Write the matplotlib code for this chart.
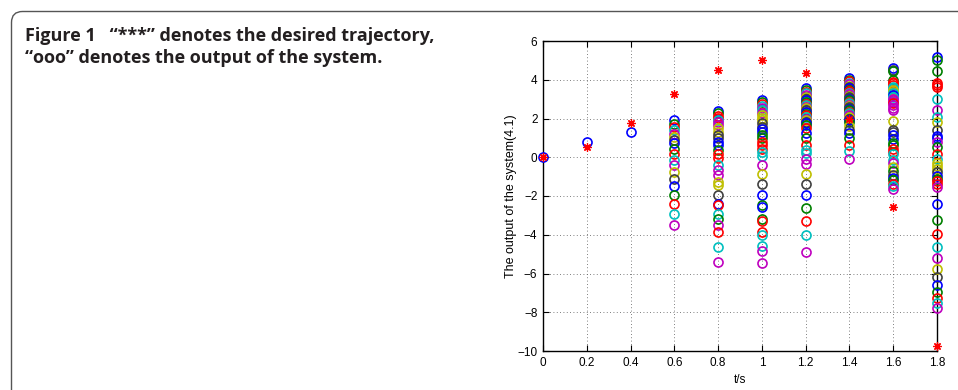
import matplotlib
matplotlib.use("Agg")
import matplotlib.pyplot as plt
from matplotlib.patches import FancyBboxPatch
from matplotlib.transforms import IdentityTransform

# MATLAB 旧版颜色循环
MCOL = {"b": (0, 0, 1), "g": (0, 0.5, 0), "r": (1, 0, 0), "c": (0, 0.75, 0.75),
        "m": (0.75, 0, 0.75), "y": (0.75, 0.75, 0), "k": (0.25, 0.25, 0.25)}

# desired trajectory (***)
T_DESIRED = [0, 0.2, 0.4, 0.6, 0.8, 1.0, 1.2, 1.4, 1.6, 1.8]
Y_DESIRED = [0, 0.53, 1.78, 3.26, 4.50, 5.02, 4.33, 1.98, -2.57, -9.75]

# system output (ooo), one list per time step
T_START = [0, 0.2, 0.4]
Y_START = [0, 0.78, 1.31]

Y_06 = [1.91, 1.74, 1.57, 1.40, 1.22, 1.05, 0.88, 0.71, 0.45, 0.19, -0.12, -0.41,
        -0.76, -1.10, -1.50, -1.93, -2.41, -2.95, -3.52]
C_06 = "bgrcmykbgrcmykbgrcm"

Y_08 = [2.38, 2.26, 2.15, 2.05, 1.92, 1.80, 1.66, 1.52, 1.31, 1.14, 0.97, 0.79, 0.62,
        0.36, 0.19, -0.02, -0.41, -0.67, -0.93, -1.28, -1.45, -1.93, -2.40, -2.47,
        -2.91, -3.17, -3.48, -3.86, -4.64, -5.42]
C_08 = "bgrrcmmyykkbbgrrcmmyykbrcgmrcm"

Y_10 = [2.95, 2.85, 2.75, 2.64, 2.55, 2.43, 2.30, 2.17, 2.05, 1.91, 1.75, 1.57, 1.45,
        1.31, 1.15, 0.97, 0.80, 0.62, 0.45, 0.25, 0.05, -0.41, -0.88, -1.40, -1.93,
        -2.48, -2.56, -3.17, -3.29, -3.86, -4.03, -4.60, -4.86, -5.45]
C_10 = "bgrcmcmyyykkbbggrrrccmykbgbgrrccmm"

Y_12 = [3.55, 3.45, 3.38, 3.30, 3.21, 3.12, 3.03, 2.95, 2.86, 2.75, 2.69, 2.60, 2.52,
        2.43, 2.34, 2.25, 2.17, 2.08, 2.00, 1.90, 1.83, 1.75, 1.66, 1.50, 1.26, 0.97,
        0.62, 0.35, 0.22, -0.07, -0.33, -0.84, -1.40, -1.97, -2.60, -3.29, -4.03, -4.90]
C_12 = "bgrcmykbgrcmykbgrcmykbgrbgrccmmykbgrcm"

Y_14 = [4.07, 4.00, 3.92, 3.85, 3.77, 3.70, 3.62, 3.55, 3.47, 3.40, 3.32, 3.25, 3.17,
        3.10, 3.02, 2.95, 2.87, 2.80, 2.72, 2.65, 2.57, 2.50, 2.42, 2.35, 2.27, 2.20,
        2.10, 2.00, 1.90, 1.80, 1.62, 1.43, 1.26, 0.97, 0.62, 0.33, -0.07]
C_14 = "bgrcmykbgrcmykbgrcmykbgrcmykbgykbgrcm"

Y_16 = [4.59, 4.50, 4.45, 3.98, 3.88, 3.81, 3.72, 3.63, 3.55, 3.45, 3.38, 3.30, 3.21,
        3.12, 3.03, 2.95, 2.86, 2.78, 2.69, 2.55, 2.43, 1.88, 1.40, 1.31, 1.14, 0.92,
        0.75, 0.62, 0.45, 0.28, 0.15, -0.12, -0.30, -0.50, -0.70, -0.93, -1.05, -1.15,
        -1.36, -1.50, -1.62]
C_16 = "bkggrrrccyycbcmmmrmmmykkbbggrrccmygkbgrcm"

Y_18 = [5.15, 5.02, 4.47, 3.85, 3.72, 3.64, 3.03, 2.43, 2.09, 1.83, 1.40, 1.10, 0.97,
        0.79, 0.53, 0.19, -0.07, -0.30, -0.45, -0.60, -0.76, -0.95, -1.10, -1.25,
        -1.36, -1.53, -2.40, -3.24, -3.97, -4.64, -5.22, -5.76, -6.18, -6.58, -6.95,
        -7.25, -7.50, -7.76]
C_18 = "bggrrrcmcykbbmgrcyyykbgrrmbgrcmykbgrcm"

COLUMNS = [(0.6, Y_06, C_06), (0.8, Y_08, C_08), (1.0, Y_10, C_10), (1.2, Y_12, C_12),
           (1.4, Y_14, C_14), (1.6, Y_16, C_16), (1.8, Y_18, C_18)]

W, H = 958, 390


def main():
    fig = plt.figure(figsize=(W / 100, H / 100), dpi=100)

    # 外框（圆角，右/下超出画面），像素坐标
    box = FancyBboxPatch((11.5, -60), 1100, H - 11.5 + 60,
                         boxstyle="round,pad=0,rounding_size=11",
                         transform=IdentityTransform(), fill=False,
                         edgecolor="#555555", linewidth=1.0)
    fig.patches.append(box)

    cap = dict(fontsize=13, fontweight="bold", family="Open Sans", color="#231f20",
               va="baseline")
    fig.text(25 / W, 1 - 41 / H, "Figure 1   \u201c***\u201d denotes the desired trajectory,", **cap)
    fig.text(25 / W, 1 - 63 / H, "\u201cooo\u201d denotes the output of the system.", **cap)

    ax = fig.add_axes([543 / W, 1 - 351 / H, 394 / W, 310 / H])
    ax.set_xlim(0, 1.8)
    ax.set_ylim(-10, 6)

    mk = dict(marker="o", linestyle="none", markersize=6.5, markerfacecolor="none",
              markeredgewidth=1.2, clip_on=False, zorder=3)
    ax.plot(T_START, Y_START, markeredgecolor=MCOL["b"], **mk)
    for t, ys, cs in COLUMNS:
        for y, c in zip(ys, cs):
            ax.plot([t], [y], markeredgecolor=MCOL[c], **mk)

    ax.plot(T_DESIRED, Y_DESIRED, linestyle="none", marker=(8, 2, 0), markersize=6,
            color="red", markeredgewidth=0.9, clip_on=False, zorder=4)

    ax.set_xticks([0, 0.2, 0.4, 0.6, 0.8, 1.0, 1.2, 1.4, 1.6, 1.8])
    ax.set_xticklabels(["0", "0.2", "0.4", "0.6", "0.8", "1", "1.2", "1.4", "1.6", "1.8"])
    ax.set_yticks(range(-10, 7, 2))
    ax.set_yticklabels(["\u221210", "\u22128", "\u22126", "\u22124", "\u22122", "0",
                        "2", "4", "6"])
    ax.tick_params(direction="in", top=True, right=True, length=4, width=0.8,
                   labelsize=8.5, pad=4)
    for lab in ax.get_xticklabels() + ax.get_yticklabels():
        lab.set_family("Liberation Sans")
    ax.grid(True, linestyle=(0, (1, 3)), color="#555555", linewidth=0.6)
    for s in ax.spines.values():
        s.set_linewidth(1.0)
    ax.set_xlabel("t/s", fontsize=8.5, family="Liberation Sans", labelpad=4)
    ax.set_ylabel("The output of the system(4.1)", fontsize=9,
                  family="Liberation Sans", labelpad=0)

    fig.savefig("out.png", dpi=100)


if __name__ == "__main__":
    main()
